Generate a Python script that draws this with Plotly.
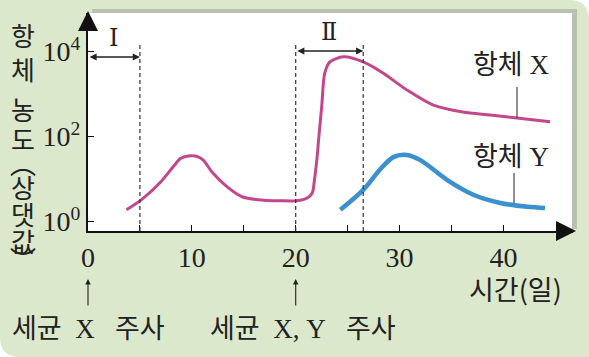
import plotly.graph_objects as go

# ---------------- data ----------------
days_x = [3.7, 5.1, 6.9, 8.2, 8.9, 9.5, 10.0, 10.6, 11.1, 12.0, 13.4, 14.9, 16.9, 18.5, 20.1,
          21.1, 21.6, 21.8, 22.1, 22.2, 22.5, 22.8, 23.3, 24.6, 26.5, 28.4, 30.7,
          33.2, 36.1, 38.7, 41.3, 44.5]
conc_x = [1.9, 3.2, 8.1, 19.5, 30.5, 34.5, 35.5, 33.5, 28.2, 14.1, 6.6, 3.8, 3.2, 3.1, 3.1,
          3.6, 4.8, 9.5, 41.7, 83, 500, 3160, 5750, 7590, 5750, 3160, 1260,
          560, 380, 324, 275, 224]
days_y = [24.3, 26.5, 28.1, 29.4, 30.7, 32.0, 34.6, 37.1, 39.7, 42.3, 44.0]
conc_y = [1.9, 5.6, 16.6, 33, 37, 28, 9.5, 4.3, 2.75, 2.24, 2.1]

x_tick_vals = [0, 5, 10, 15, 20, 25, 30, 35, 40]
x_tick_text = ["0", "", "10", "", "20", "", "30", "", "40"]
y_tick_vals = [1, 100, 10000]
y_tick_text = ["10<sup>0</sup>", "10<sup>2</sup>", "10<sup>4</sup>"]
marker_days = [5, 20, 26.5]
period_I = [0, 5]
period_II = [20, 26.5]
injection_days = [0, 20]
injection_text = ["세균\u00a0\u00a0X\u00a0\u00a0\u00a0주사", "세균\u00a0\u00a0X,\u00a0Y\u00a0\u00a0\u00a0주사"]

# ---------------- layout helpers ----------------
W, H = 589, 357
L, R, T, B = 88, 16, 13, 126
PW, PH = W - L - R, H - T - B


def P(px, py):
    return (px - L) / PW, (H - B - py) / PH


SERIF = "Liberation Serif"
KR = "Noto Sans CJK KR"
MIX = "Liberation Serif, Noto Sans CJK KR"
MAG = "#c4468d"
BLUE = "#3b90cf"
GREEN = "#dce8cc"

fig = go.Figure()
fig.add_trace(go.Scatter(x=days_x, y=conc_x, mode="lines",
                         line=dict(color=MAG, width=3, shape="spline", smoothing=0.8),
                         hoverinfo="skip"))
fig.add_trace(go.Scatter(x=days_y, y=conc_y, mode="lines",
                         line=dict(color=BLUE, width=4.5, shape="spline", smoothing=0.9),
                         hoverinfo="skip"))

shapes = []
# green rounded background (top-right and bottom-left rounded)
x0, y0 = P(0, 0)
x1, y1 = P(W, H)
r = 20
xa, _ = P(W - r, 0)
_, ya = P(0, r)
xb, _ = P(r, 0)
_, yb = P(0, H - r)
path = (f"M {x0},{y0} L {xa},{y0} Q {x1},{y0} {x1},{ya} L {x1},{y1} "
        f"L {xb},{y1} Q {x0},{y1} {x0},{yb} Z")
shapes.append(dict(type="path", xref="paper", yref="paper", path=path,
                   fillcolor=GREEN, line=dict(width=0), layer="below"))
# panel shadow
sx0, sy0 = P(92, 9)
sx1, sy1 = P(577, 229)
shapes.append(dict(type="rect", xref="paper", yref="paper", x0=sx0, y0=sy1, x1=sx1, y1=sy0,
                   fillcolor="#b9c2b0", line=dict(width=0), layer="below"))
# white panel
wx0, wy0 = P(88, 13)
wx1, wy1 = P(572, 231)
shapes.append(dict(type="rect", xref="paper", yref="paper", x0=wx0, y0=wy1, x1=wx1, y1=wy0,
                   fillcolor="white", line=dict(width=0), layer="below"))
# dashed markers
_, ytop = P(0, 42)
for d in marker_days:
    shapes.append(dict(type="line", xref="x", yref="paper", x0=d, x1=d, y0=0, y1=ytop,
                       line=dict(color="#333", width=1.2, dash="4px,3px")))
# leader lines
for (lx, ly0, ly1) in [(517, 87, 118), (514, 173, 203)]:
    a, b0 = P(lx, ly0)
    _, b1 = P(lx, ly1)
    shapes.append(dict(type="line", xref="paper", yref="paper", x0=a, x1=a, y0=b0, y1=b1,
                       line=dict(color="#222", width=1)))

ann = []
# axis arrows
ax_, ay_ = P(88, 11)
ann.append(dict(x=0, y=ay_, xref="paper", yref="paper", ax=0, ay=20, text="",
                showarrow=True, arrowhead=2, arrowsize=2, arrowwidth=2, arrowcolor="#111"))
bx_, _ = P(576, 231)
ann.append(dict(x=bx_, y=0, xref="paper", yref="paper", ax=-20, ay=0, text="",
                showarrow=True, arrowhead=2, arrowsize=2, arrowwidth=2, arrowcolor="#111"))
# period arrows
_, yI = P(0, 57)
_, yII = P(0, 51)
for (pr, yy, lab, ly) in [(period_I, yI, "Ⅰ", 38), (period_II, yII, "Ⅱ", 32)]:
    ann.append(dict(x=pr[1], y=yy, xref="x", yref="paper", ax=pr[0], ay=0,
                    axref="x", ayref="pixel", text="", showarrow=True,
                    arrowhead=2, startarrowhead=2, arrowside="end+start",
                    arrowsize=1.1, startarrowsize=1.1, arrowwidth=1.3, arrowcolor="#222"))
    _, lyp = P(0, ly)
    ann.append(dict(x=(pr[0] + pr[1]) / 2, y=lyp, xref="x", yref="paper", text=lab,
                    showarrow=False, font=dict(family="DejaVu Serif, " + SERIF, size=24, color="#222"),
                    xanchor="center", yanchor="middle"))
# series labels
for (tx, ty, t) in [(511, 65, "항체\u00a0X"), (511, 157, "항체\u00a0Y")]:
    a, b = P(tx, ty)
    ann.append(dict(x=a, y=b, xref="paper", yref="paper", text=t, showarrow=False,
                    font=dict(family=MIX, size=27, color="#222"),
                    xanchor="center", yanchor="middle"))
# y-axis title characters (vertical)
ychars = ["항", "체", "농", "도", "︵", "상", "댓", "값", "︶"]
ypos = [34, 68, 108, 138, 162, 186, 213, 240, 258]
for ch, yy in zip(ychars, ypos):
    a, b = P(23, yy)
    ann.append(dict(x=a, y=b, xref="paper", yref="paper", text=ch, showarrow=False,
                    font=dict(family=KR, size=26, color="#222"),
                    xanchor="center", yanchor="middle"))
# x-axis title
a, b = P(515, 288)
ann.append(dict(x=a, y=b, xref="paper", yref="paper", text="시간(일)", showarrow=False,
                font=dict(family=KR, size=27, color="#222"), xanchor="center", yanchor="middle"))
# injection arrows and captions
_, ah = P(0, 279)
_, cy = P(0, 329)
cap_x = [88, 303]
for d, t, cx in zip(injection_days, injection_text, cap_x):
    ann.append(dict(x=d, y=ah, xref="x", yref="paper", ax=0, ay=28, text="",
                    showarrow=True, arrowhead=2, arrowsize=1, arrowwidth=1.1, arrowcolor="#222"))
    a, _ = P(cx, 0)
    ann.append(dict(x=a, y=cy, xref="paper", yref="paper", text=t, showarrow=False,
                    font=dict(family=MIX, size=27, color="#222"),
                    xanchor="center", yanchor="middle"))

fig.update_layout(
    width=W, height=H,
    margin=dict(l=L, r=R, t=T, b=B, pad=0),
    paper_bgcolor="white",
    plot_bgcolor="rgba(0,0,0,0)",
    showlegend=False,
    shapes=shapes,
    annotations=ann,
    xaxis=dict(range=[0, 46.7], showline=True, linecolor="#111", linewidth=2,
               showgrid=False, zeroline=False, ticks="inside", ticklen=6, tickwidth=1.3,
               tickcolor="#111", tickvals=x_tick_vals, ticktext=x_tick_text,
               tickfont=dict(family=SERIF, size=28, color="#222"), fixedrange=True),
    yaxis=dict(type="log", range=[-0.22, 4.91], showline=True, linecolor="#111", linewidth=2,
               showgrid=False, zeroline=False, ticks="inside", ticklen=6, tickwidth=1.3,
               tickcolor="#111", tickvals=y_tick_vals, ticktext=y_tick_text,
               tickfont=dict(family=SERIF, size=28, color="#222"), fixedrange=True),
)

fig.write_html("out.html", config={"displayModeBar": False})
